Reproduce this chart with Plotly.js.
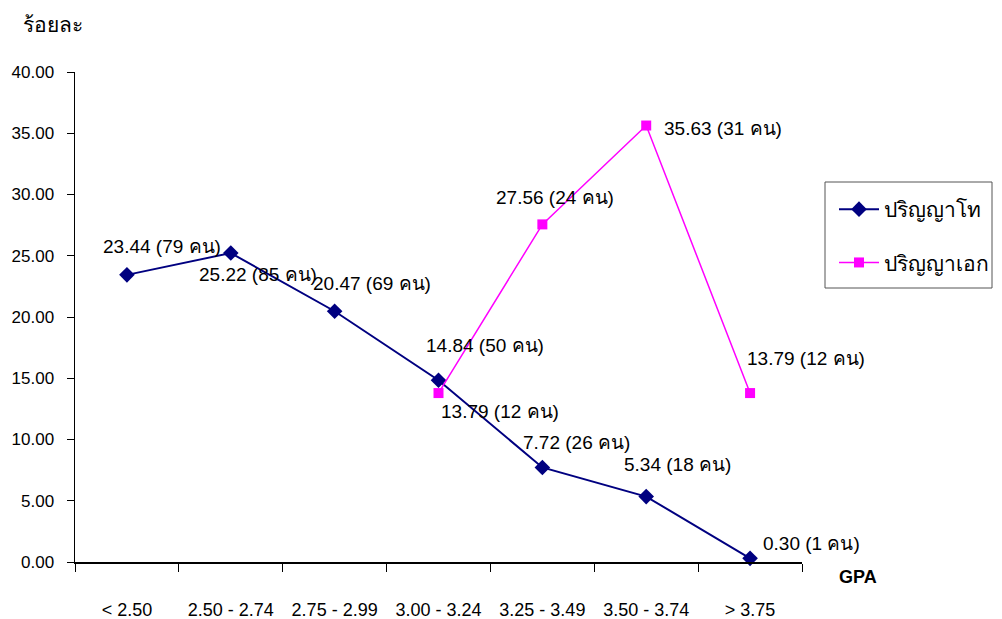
<!DOCTYPE html>
<html>
<head>
<meta charset="utf-8">
<script src="https://cdn.plot.ly/plotly-3.0.1.min.js"></script>
<style>html,body{margin:0;padding:0;background:#fff;}#chart{width:1002px;height:619px;}</style>
</head>
<body>
<div id="chart"></div>
<script>
// ---- data ----
const categories = ['< 2.50', '2.50 - 2.74', '2.75 - 2.99', '3.00 - 3.24', '3.25 - 3.49', '3.50 - 3.74', '> 3.75'];
const masterPct = [23.44, 25.22, 20.47, 14.84, 7.72, 5.34, 0.30];
const masterCount = [79, 85, 69, 50, 26, 18, 1];
const phdPct = [null, null, null, 13.79, 27.56, 35.63, 13.79];
const phdCount = [null, null, null, 12, 24, 31, 12];
const seriesNames = ['ปริญญาโท', 'ปริญญาเอก'];
const unitWord = 'คน';
const yTitle = 'ร้อยละ';
const xTitle = 'GPA';

// ---- label offsets (pixels, styling only) ----
const masterOffsets = [[35, 28], [27, -21], [37, 28], [46, 35], [34, 25], [31, 32], [61, 15]];
const phdOffsets = [null, null, null, [61, -18], [13, 27], [77, -3], [56, 35]];

const FONT = 'Liberation Sans, Arial, sans-serif';
const W = 1002, H = 619, ML = 75, MR = 200, MT = 72, MB = 57;
const PW = W - ML - MR, PH = H - MT - MB;
const px = v => (v - ML) / PW, py = v => (H - MB - v) / PH;

const traces = [
  {
    type: 'scatter', mode: 'lines+markers', name: seriesNames[0],
    x: categories, y: masterPct, legendgroup: 'a',
    line: {color: '#000080', width: 2},
    marker: {symbol: 'diamond', size: 12, color: '#000080'},
    cliponaxis: false
  },
  {
    type: 'scatter', mode: 'lines+markers', name: seriesNames[1],
    x: categories, y: phdPct, legendgroup: 'b',
    line: {color: '#FF00FF', width: 1.5},
    marker: {symbol: 'square', size: 10, color: '#FF00FF'},
    cliponaxis: false, connectgaps: false
  }
];

function fmt(v, c) { return v.toFixed(2) + ' (' + c + ' ' + unitWord + ')'; }

const annotations = [];
masterPct.forEach((v, i) => {
  if (v == null) return;
  annotations.push({x: categories[i], y: v, xref: 'x', yref: 'y', text: fmt(v, masterCount[i]),
    showarrow: false, xshift: masterOffsets[i][0], yshift: masterOffsets[i][1],
    font: {family: FONT, size: 19, color: '#000'}});
});
phdPct.forEach((v, i) => {
  if (v == null) return;
  annotations.push({x: categories[i], y: v, xref: 'x', yref: 'y', text: fmt(v, phdCount[i]),
    showarrow: false, xshift: phdOffsets[i][0], yshift: phdOffsets[i][1],
    font: {family: FONT, size: 19, color: '#000'}});
});
annotations.push({xref: 'paper', yref: 'paper', x: px(53), y: py(25), xanchor: 'center', yanchor: 'middle',
  text: yTitle, showarrow: false, font: {family: FONT, size: 21, color: '#000'}});
annotations.push({xref: 'paper', yref: 'paper', x: px(858), y: py(577), xanchor: 'center', yanchor: 'middle',
  text: '<b>' + xTitle + '</b>', showarrow: false, font: {family: FONT, size: 18, color: '#000'}});

const layout = {
  width: W, height: H,
  margin: {l: ML, r: MR, t: MT, b: MB, autoexpand: false},
  paper_bgcolor: '#fff', plot_bgcolor: '#fff',
  font: {family: FONT, size: 17, color: '#000'},
  showlegend: true,
  legend: {
    x: px(834), y: py(189), xanchor: 'left', yanchor: 'top',
    bgcolor: 'rgba(0,0,0,0)', borderwidth: 0,
    font: {family: FONT, size: 21, color: '#000'},
    traceorder: 'grouped', tracegroupgap: 23, itemwidth: 40
  },
  shapes: [{
    type: 'rect', xref: 'paper', yref: 'paper',
    x0: px(825), x1: px(992), y0: py(288), y1: py(182),
    line: {color: '#555', width: 1}, fillcolor: 'rgba(0,0,0,0)', layer: 'below'
  }],
  xaxis: {
    type: 'category', showgrid: false, zeroline: false, automargin: false,
    showline: true, linecolor: '#000', linewidth: 1.5,
    ticks: 'outside', tickson: 'boundaries', ticklen: 8, tickcolor: '#000', tickwidth: 1,
    ticklabelstandoff: 31,
    tickfont: {family: FONT, size: 18, color: '#000'},
    range: [-0.5, 6.5], fixedrange: true
  },
  yaxis: {
    range: [0, 40], dtick: 5, tick0: 0, tickformat: '.2f', automargin: false,
    showgrid: false, zeroline: false,
    showline: true, linecolor: '#000', linewidth: 1.5,
    ticks: 'outside', ticklen: 7, tickcolor: '#000', tickwidth: 1,
    ticklabelstandoff: 9,
    tickfont: {family: FONT, size: 17, color: '#000'}
  },
  annotations: annotations
};

Plotly.newPlot('chart', traces, layout, {displayModeBar: false, staticPlot: true});
</script>
</body>
</html>
